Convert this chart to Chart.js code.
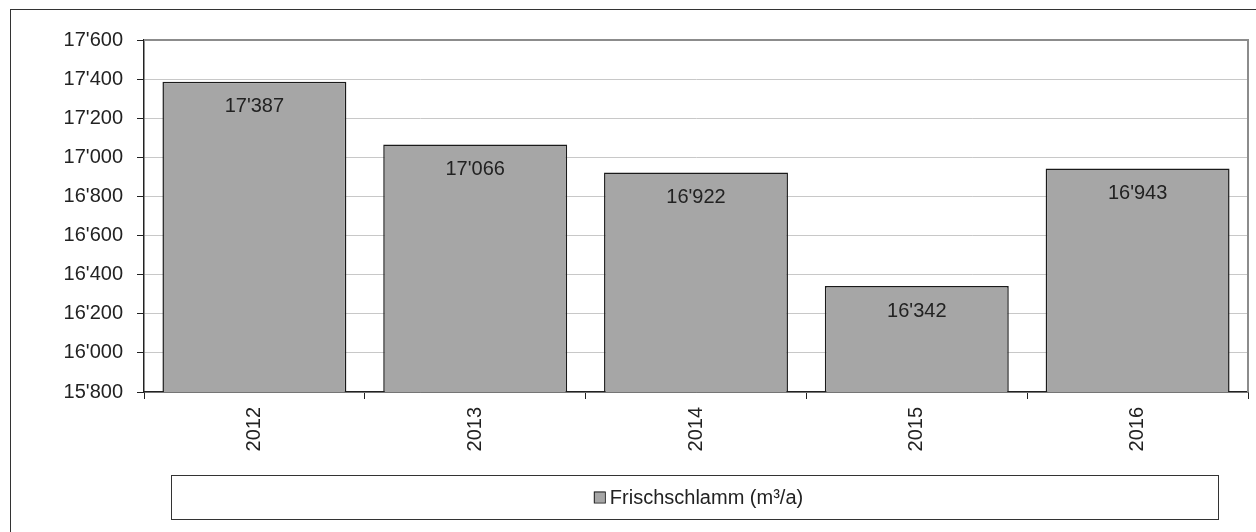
<!DOCTYPE html>
<html lang="de">
<head>
    <meta charset="UTF-8">
    <title>Frischschlamm</title>
    <script src="https://cdn.jsdelivr.net/npm/chart.js"></script>
    <style>
        body {
            margin: 0;
            background: white;
            font-family: 'Liberation Sans', Arial, sans-serif;
        }
        .frame {
            position: absolute;
            left: 10px;
            top: 9px;
            width: 1252px;
            height: 540px;
            border: 1px solid #333;
            pointer-events: none;
        }
        .chart-box {
            position: absolute;
            left: 0;
            top: 0;
            width: 1256px;
            height: 532px;
        }
    </style>
</head>
<body>
    <div class="frame"></div>
    <div class="chart-box">
        <canvas id="sludgeChart"></canvas>
    </div>

    <script>
        // Data
        const years = ['2012', '2013', '2014', '2015', '2016'];
        const sludge = [17387, 17066, 16922, 16342, 16943];
        const seriesLabel = 'Frischschlamm (m³/a)';
        const yMin = 15800;
        const yMax = 17600;
        const yStep = 200;

        const FONT = "'Liberation Sans', Arial, sans-serif";

        // 17387 -> 17'387
        function swissFormat(v) {
            return String(Math.round(v)).replace(/\B(?=(\d{3})+(?!\d))/g, "'");
        }

        // top + right plot border in grey
        const plotBorder = {
            id: 'plotBorder',
            beforeDatasetsDraw(chart) {
                const { ctx, chartArea: a } = chart;
                ctx.save();
                ctx.strokeStyle = '#8c8c8c';
                ctx.lineWidth = 2;
                ctx.beginPath();
                ctx.moveTo(a.left, a.top);
                ctx.lineTo(a.right, a.top);
                ctx.lineTo(a.right, a.bottom);
                ctx.stroke();
                ctx.restore();
            }
        };

        // value labels inside the top of each bar
        const barLabels = {
            id: 'barLabels',
            afterDatasetsDraw(chart) {
                const { ctx } = chart;
                const meta = chart.getDatasetMeta(0);
                ctx.save();
                ctx.font = '20px ' + FONT;
                ctx.fillStyle = '#222';
                ctx.textAlign = 'center';
                ctx.textBaseline = 'middle';
                meta.data.forEach((bar, i) => {
                    ctx.fillText(swissFormat(sludge[i]), bar.x, bar.y + 25);
                });
                ctx.restore();
            }
        };

        // framed legend below the axis
        const boxLegend = {
            id: 'boxLegend',
            afterDraw(chart) {
                const { ctx, chartArea: a } = chart;
                const ds = chart.data.datasets[0];
                const left = a.left + 27, right = a.right - 30;
                const top = chart.height - 57, bottom = chart.height - 13;
                ctx.save();
                ctx.strokeStyle = '#333';
                ctx.lineWidth = 1;
                ctx.strokeRect(left + 0.5, top + 0.5, right - left, bottom - top);

                ctx.font = '20px ' + FONT;
                const tw = ctx.measureText(ds.label).width;
                const mark = 11, gap = 5;
                const x0 = (left + right) / 2 - (mark + gap + tw) / 2 + 4;
                const yc = (top + bottom) / 2;
                ctx.fillStyle = ds.backgroundColor;
                ctx.fillRect(x0, yc - mark / 2, mark, mark);
                ctx.strokeStyle = '#222';
                ctx.strokeRect(x0 + 0.5, yc - mark / 2 + 0.5, mark, mark);
                ctx.fillStyle = '#222';
                ctx.textBaseline = 'middle';
                ctx.fillText(ds.label, x0 + mark + gap, yc + 1);
                ctx.restore();
            }
        };

        new Chart(document.getElementById('sludgeChart'), {
            type: 'bar',
            data: {
                labels: years,
                datasets: [{
                    label: seriesLabel,
                    data: sludge,
                    backgroundColor: '#a6a6a6',
                    borderColor: '#1a1a1a',
                    borderWidth: 1.5,
                    barPercentage: 0.833,
                    categoryPercentage: 1
                }]
            },
            options: {
                responsive: true,
                maintainAspectRatio: false,
                animation: false,
                layout: {
                    padding: { left: 0, top: 40, right: 8, bottom: 0 }
                },
                plugins: {
                    legend: { display: false },
                    tooltip: { enabled: false }
                },
                scales: {
                    x: {
                        afterFit(scale) { scale.height = 140; },
                        grid: {
                            offset: true,
                            drawOnChartArea: false,
                            tickLength: 7,
                            tickColor: '#222'
                        },
                        border: { color: '#222', width: 1.5 },
                        ticks: {
                            minRotation: 90,
                            maxRotation: 90,
                            autoSkip: false,
                            padding: 8,
                            color: '#222',
                            font: { family: FONT, size: 20 }
                        }
                    },
                    y: {
                        min: yMin,
                        max: yMax,
                        afterFit(scale) { scale.width = 144; },
                        grid: {
                            color: '#c8c8c8',
                            tickLength: 7,
                            tickColor: '#222'
                        },
                        border: { color: '#222', width: 1.5 },
                        ticks: {
                            stepSize: yStep,
                            padding: 14,
                            color: '#222',
                            font: { family: FONT, size: 20 },
                            callback: (v) => swissFormat(v)
                        }
                    }
                }
            },
            plugins: [plotBorder, barLabels, boxLegend]
        });
    </script>
</body>
</html>
